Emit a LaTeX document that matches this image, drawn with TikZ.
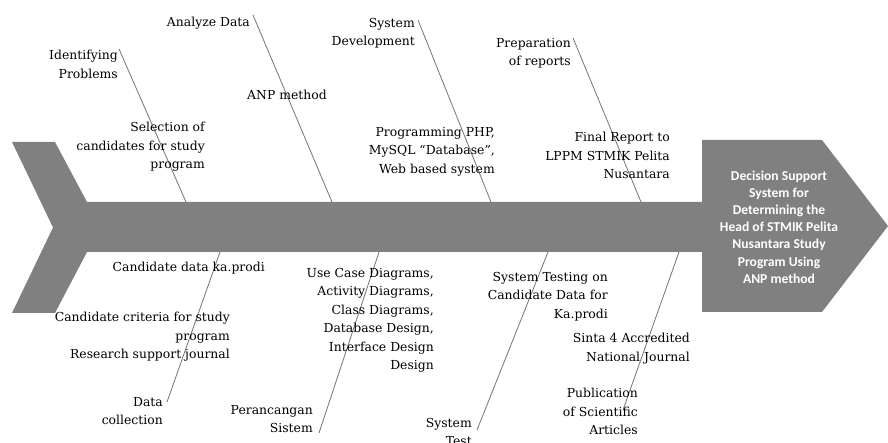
\documentclass[tikz,border=0pt]{standalone}
\usepackage{fontspec}
\setmainfont{DejaVu Serif}
\newfontfamily\lblfont{DejaVu Serif}
\newfontfamily\headfont{Carlito}
\definecolor{spinegray}{RGB}{128,128,128}
\definecolor{bonegray}{RGB}{115,115,115}
\begin{document}
\begin{tikzpicture}[x=1pt,y=-1pt,
  lbl/.style={font=\lblfont\fontsize{12.4}{18.5}\selectfont, align=right, inner sep=0pt, anchor=north east, text=black},
  bone/.style={draw=bonegray, line width=0.8pt},
  headtext/.style={font=\headfont\bfseries\fontsize{13.6}{17.2}\selectfont, align=center, text=white, inner sep=0pt}]
\useasboundingbox (0,0) rectangle (888,443);
% spine arrow
\fill[spinegray] (12,142) -- (55,142) -- (87,202) -- (702,202) -- (702,140) -- (822,140)
  -- (888,226) -- (822,312) -- (702,312) -- (702,252) -- (87,252) -- (55,313) -- (12,313)
  -- (53,227.5) -- cycle;
\node[headtext] (head) at (779,227) {Decision Support\\System for\\Determining the\\Head of STMIK Pelita\\Nusantara Study\\Program Using\\ANP method};
% bone end points
\coordinate (b1s) at (119,49);  \coordinate (b1e) at (186,202);
\coordinate (b2s) at (253,15);  \coordinate (b2e) at (332,202);
\coordinate (b3s) at (418,20);  \coordinate (b3e) at (491,202);
\coordinate (b4s) at (573,38);  \coordinate (b4e) at (641,202);
\coordinate (b5s) at (220,252); \coordinate (b5e) at (167,402);
\coordinate (b6s) at (379,252); \coordinate (b6e) at (319,433);
\coordinate (b7s) at (548,252); \coordinate (b7e) at (477,430);
\coordinate (b8s) at (679,252); \coordinate (b8e) at (623,410);
\foreach \i in {1,...,8} { \draw[bone] (b\i s) -- (b\i e); }
% top labels
\node[lbl] (l1) at (118,50) {Identifying\\Problems};
\node[lbl] (l2) at (250,17) {Analyze Data};
\node[lbl] (l3) at (327,90) {ANP method};
\node[lbl] (l4) at (205,122) {Selection of\\candidates for study\\program};
\node[lbl] (l5) at (415,18) {System\\Development};
\node[lbl] (l6) at (571,38) {Preparation\\of reports};
\node[lbl] (l7) at (495,127) {Programming PHP,\\MySQL “Database”,\\Web based system};
\node[lbl] (l8) at (670,132) {Final Report to\\LPPM STMIK Pelita\\Nusantara};
% bottom labels
\node[lbl] (l9) at (265,262) {Candidate data ka.prodi};
\node[lbl] (l10) at (230,312) {Candidate criteria for study\\program\\Research support journal};
\node[lbl] (l11) at (163,397) {Data\\collection};
\node[lbl] (l12) at (313,405) {Perancangan\\Sistem};
\node[lbl] (l13) at (434,268) {Use Case Diagrams,\\Activity Diagrams,\\Class Diagrams,\\Database Design,\\Interface Design\\Design};
\node[lbl] (l14) at (608,272) {System Testing on\\Candidate Data for\\Ka.prodi};
\node[lbl] (l15) at (690,333) {Sinta 4 Accredited\\National Journal};
\node[lbl] (l16) at (638,388) {Publication\\of Scientific\\Articles};
\node[lbl] (l17) at (472,418) {System\\Test};
\end{tikzpicture}
\end{document}
